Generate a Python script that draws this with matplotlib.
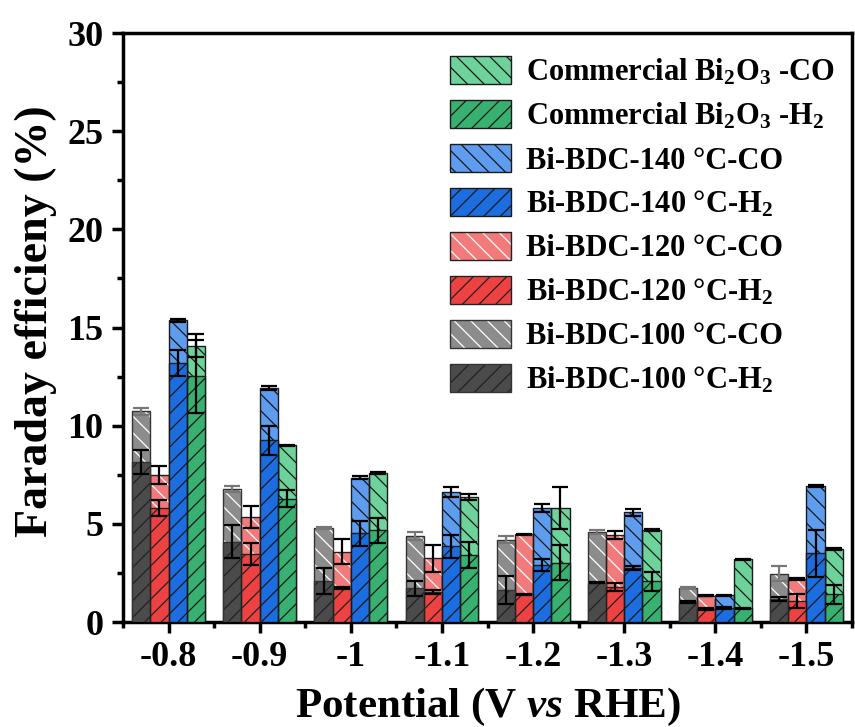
import matplotlib
matplotlib.use("Agg")
import matplotlib.pyplot as plt
from matplotlib.patches import Patch
import numpy as np

plt.rcParams['font.family'] = ['Liberation Serif', 'DejaVu Serif']
plt.rcParams['font.weight'] = 'bold'
plt.rcParams['mathtext.fontset'] = 'custom'
plt.rcParams['mathtext.rm'] = 'Liberation Serif:bold'
plt.rcParams['mathtext.it'] = 'Liberation Serif:italic:bold'
plt.rcParams['mathtext.bf'] = 'Liberation Serif:bold'
plt.rcParams['mathtext.default'] = 'rm'
plt.rcParams['hatch.linewidth'] = 0.9

potentials = ['-0.8', '-0.9', '-1', '-1.1', '-1.2', '-1.3', '-1.4', '-1.5']

bdc100_co = [10.74, 6.76, 4.78, 4.39, 4.19, 4.58, 1.73, 2.47]
bdc100_co_err = [0.18, 0.15, 0.05, 0.21, 0.18, 0.10, 0.03, 0.40]
bdc100_h2 = [8.15, 4.10, 2.08, 1.71, 1.63, 2.00, 1.03, 1.17]
bdc100_h2_err = [0.60, 0.85, 0.65, 0.36, 0.72, 0.03, 0.05, 0.12]

bdc120_co = [7.49, 5.36, 3.59, 3.24, 4.46, 4.44, 1.34, 2.19]
bdc120_co_err = [0.47, 0.55, 0.63, 0.67, 0.03, 0.22, 0.03, 0.05]
bdc120_h2 = [5.80, 3.46, 1.73, 1.51, 1.42, 1.80, 0.66, 1.08]
bdc120_h2_err = [0.42, 0.55, 0.05, 0.10, 0.03, 0.20, 0.03, 0.35]

bdc140_co = [15.37, 11.93, 7.36, 6.63, 5.80, 5.58, 1.36, 6.93]
bdc140_co_err = [0.07, 0.10, 0.10, 0.25, 0.19, 0.20, 0.03, 0.03]
bdc140_h2 = [13.20, 9.25, 4.52, 3.85, 2.91, 2.76, 0.71, 3.49]
bdc140_h2_err = [0.65, 0.75, 0.65, 0.60, 0.32, 0.10, 0.03, 1.20]

bi2o3_co = [14.08, 9.00, 7.59, 6.39, 5.80, 4.69, 3.20, 3.71]
bi2o3_co_err = [0.60, 0.03, 0.07, 0.15, 1.07, 0.05, 0.03, 0.05]
bi2o3_h2 = [12.52, 6.29, 4.68, 3.41, 3.03, 2.07, 0.69, 1.42]
bi2o3_h2_err = [1.85, 0.42, 0.63, 0.65, 0.88, 0.48, 0.03, 0.48]

series = [
    dict(name='Bi-BDC-100 \u00b0C', co=bdc100_co, coe=bdc100_co_err, h2=bdc100_h2, h2e=bdc100_h2_err,
         cco='#8c8c8c', ch2='#4b4b4b', hco='white', hh2='#222222', eco='#777777', edge='#333333'),
    dict(name='Bi-BDC-120 \u00b0C', co=bdc120_co, coe=bdc120_co_err, h2=bdc120_h2, h2e=bdc120_h2_err,
         cco='#f27a7a', ch2='#ee4242', hco='white', hh2='#222222', eco='black', edge='#222222'),
    dict(name='Bi-BDC-140 \u00b0C', co=bdc140_co, coe=bdc140_co_err, h2=bdc140_h2, h2e=bdc140_h2_err,
         cco='#5e9cef', ch2='#1c6de0', hco='#1a1a1a', hh2='#1a1a1a', eco='black', edge='#1a1a1a'),
    dict(name='Commercial Bi$_2$O$_3$ ', co=bi2o3_co, coe=bi2o3_co_err, h2=bi2o3_h2, h2e=bi2o3_h2_err,
         cco='#6dd39b', ch2='#37b070', hco='#1a1a1a', hh2='#1a1a1a', eco='black', edge='#1a1a1a'),
]

fig = plt.figure(figsize=(8.55, 7.27), dpi=100)
ax = fig.add_axes([0.1439, 0.1444, 0.9965 - 0.1439, 0.9546 - 0.1444])

x = np.arange(1, len(potentials) + 1)
width = 0.2
offsets = [-0.3, -0.1, 0.1, 0.3]

handles = []
labels = []
for s, off in zip(series, offsets):
    xs = x + off
    # CO bar (full height, lighter)
    ax.bar(xs, s['co'], width, color=s['cco'], edgecolor=s['hco'], linewidth=0, hatch='\\\\', zorder=2)
    ax.bar(xs, s['co'], width, fill=False, edgecolor=s['edge'], linewidth=1.0, zorder=2.1)
    # H2 bar in front
    ax.bar(xs, s['h2'], width, color=s['ch2'], edgecolor=s['hh2'], linewidth=0, hatch='//', zorder=3)
    ax.bar(xs, s['h2'], width, fill=False, edgecolor=s['edge'], linewidth=1.0, zorder=3.1)
    ax.errorbar(xs, s['co'], yerr=s['coe'], fmt='none', ecolor=s['eco'], elinewidth=1.6,
                capsize=6, capthick=1.6, zorder=4)
    ax.errorbar(xs, s['h2'], yerr=s['h2e'], fmt='none', ecolor='black', elinewidth=1.6,
                capsize=6, capthick=1.6, zorder=4)
    hco = (Patch(facecolor=s['cco'], edgecolor=s['hco'], linewidth=0, hatch='\\\\'),
           Patch(fill=False, edgecolor=s['edge'], linewidth=1.0))
    hh2 = (Patch(facecolor=s['ch2'], edgecolor=s['hh2'], linewidth=0, hatch='//'),
           Patch(fill=False, edgecolor=s['edge'], linewidth=1.0))
    handles += [hh2, hco]
    labels += [s['name'] + '-H$_2$', s['name'] + '-CO']

handles = handles[::-1]
labels = labels[::-1]
leg = ax.legend(handles, labels, loc='upper right', bbox_to_anchor=(1.0 + 7 / 729, 1.0 + 1 / 589),
                frameon=False, fontsize=22, handlelength=2.0, handleheight=1.0, handletextpad=0.5,
                labelspacing=0.42, borderaxespad=0.4)

ax.set_xlim(0.5, 8.5)
ax.set_ylim(0, 30)
ax.set_xticks(x)
ax.set_xticklabels(potentials)
ax.set_xticks(np.arange(0.5, 9.0, 1.0), minor=True)
ax.set_yticks(np.arange(0, 31, 5))
ax.set_yticks(np.arange(0, 30.1, 2.5), minor=True)

for sp in ax.spines.values():
    sp.set_linewidth(2.5)
ax.tick_params(axis='both', which='major', direction='out', length=8, width=2.5, labelsize=26, pad=6)
ax.tick_params(axis='both', which='minor', direction='out', length=4.5, width=2.5)
ax.tick_params(top=False, right=False, which='both')

ax.set_xlabel('Potential (V $\\it{vs}$ RHE)', fontsize=31, fontweight='bold', labelpad=8)
ax.set_ylabel('Faraday efficieny (%)', fontsize=33, fontweight='bold')
ax.yaxis.set_label_coords(-0.091, 0.51)

fig.savefig('out.png', dpi=100)
